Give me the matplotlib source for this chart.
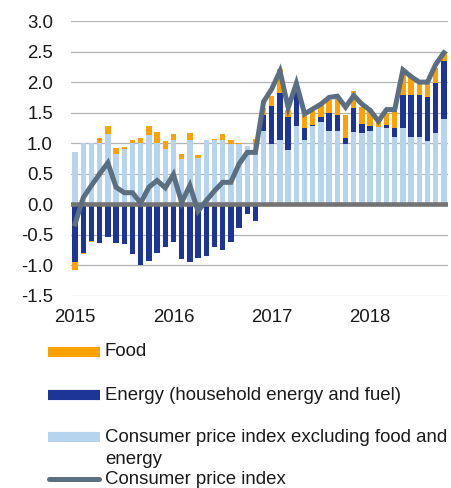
import matplotlib
matplotlib.use("Agg")
import matplotlib.pyplot as plt
from matplotlib.lines import Line2D
import numpy as np

plt.rcParams['font.family'] = ['Liberation Sans', 'DejaVu Sans']

# Monthly data Jan 2015 - Oct 2018 (percentage points / percent)
months = [f"{y}-{m:02d}" for y in range(2015, 2019) for m in range(1, 13)][:46]

core = [0.85, 1.00, 1.00, 1.00, 1.15, 0.83, 0.91, 1.00, 1.00, 1.14, 1.00, 0.90,
        1.06, 0.75, 1.06, 0.76, 1.06, 1.06, 1.06, 0.98, 0.98, 0.96, 0.97, 1.20,
        0.98, 1.05, 0.89, 1.28, 1.05, 1.28, 1.35, 1.20, 1.20, 0.98, 1.19, 1.17,
        1.20, 1.26, 1.25, 1.11, 1.25, 1.10, 1.10, 1.04, 1.17, 1.40]

energy = [-0.94, -0.79, -0.60, -0.64, -0.53, -0.63, -0.65, -0.82, -0.99, -0.92, -0.79, -0.70,
          -0.61, -0.90, -0.94, -0.88, -0.84, -0.69, -0.75, -0.62, -0.38, -0.15, -0.28, 0.27,
          0.63, 0.78, 0.54, 0.62, 0.20, 0.02, 0.08, 0.30, 0.27, 0.11, 0.38, 0.15,
          0.08, 0.00, 0.05, 0.14, 0.54, 0.69, 0.69, 0.72, 0.82, 0.94]

food = [-0.13, -0.03, -0.02, 0.09, 0.13, 0.09, 0.03, 0.05, 0.08, 0.15, 0.19, 0.13,
        0.09, 0.07, 0.11, 0.05, 0.00, 0.01, 0.09, 0.07, 0.03, 0.00, 0.10, 0.11,
        0.17, 0.38, 0.11, 0.08, 0.21, 0.23, 0.22, 0.21, 0.30, 0.38, 0.29, 0.28,
        0.24, 0.09, 0.20, 0.27, 0.36, 0.30, 0.20, 0.23, 0.24, 0.16]

cpi = [-0.32, 0.11, 0.31, 0.50, 0.68, 0.28, 0.19, 0.19, 0.02, 0.28, 0.39, 0.27,
       0.49, 0.03, 0.31, -0.11, 0.06, 0.22, 0.36, 0.36, 0.66, 0.85, 0.85, 1.68,
       1.89, 2.18, 1.58, 1.98, 1.48, 1.56, 1.64, 1.75, 1.77, 1.59, 1.78, 1.64,
       1.54, 1.36, 1.55, 1.55, 2.20, 2.09, 2.00, 2.00, 2.29, 2.48]

year_labels = ["2015", "2016", "2017", "2018"]
yticks = [-1.5, -1.0, -0.5, 0.0, 0.5, 1.0, 1.5, 2.0, 2.5, 3.0]

C_FOOD = '#ffa100'
C_ENERGY = '#1c3596'
C_CORE = '#b7d4ef'
C_CPI = '#5a6f82'
C_TEXT = '#1a1a1a'

W, H = 451, 488
fig = plt.figure(figsize=(W / 100, H / 100), dpi=100)
ax = fig.add_axes([71 / W, 1 - 296 / H, (448 - 71) / W, (296 - 21) / H])

x = np.arange(len(months))
core_a = np.array(core)
energy_a = np.array(energy)
food_a = np.array(food)

pos_e = np.clip(energy_a, 0, None)
neg_e = np.clip(energy_a, None, 0)
pos_f = np.clip(food_a, 0, None)
neg_f = np.clip(food_a, None, 0)

bw = 0.66
ax.bar(x, core_a, bw, color=C_CORE, zorder=2)
ax.bar(x, pos_e, bw, bottom=core_a, color=C_ENERGY, zorder=2)
ax.bar(x, pos_f, bw, bottom=core_a + pos_e, color=C_FOOD, zorder=2)
ax.bar(x, neg_e, bw, color=C_ENERGY, zorder=2)
ax.bar(x, neg_f, bw, bottom=neg_e, color=C_FOOD, zorder=2)

ax.axhline(0, color='#737373', lw=3.3, zorder=3)
ax.plot(x, cpi, color=C_CPI, lw=3.6, zorder=4, solid_joinstyle='miter')

ax.set_xlim(-0.5, len(months) - 0.5)
ax.set_ylim(-1.5, 3.0)
ax.set_yticks(yticks)
ax.set_yticklabels([f"{v:.1f}" for v in yticks])
ax.set_xticks([0, 12, 24, 36])
ax.set_xticklabels(year_labels)
for v in yticks:
    if v != 0:
        ax.axhline(v, color='#b3b3b3', lw=0.9, zorder=1)

for s in ax.spines.values():
    s.set_visible(False)
ax.tick_params(axis='both', length=0, labelsize=13.4, colors=C_TEXT)
ax.tick_params(axis='y', pad=13)
ax.tick_params(axis='x', pad=9)
ax.set_facecolor('none')


def fx(px):
    return px / W


def fy(py):
    return 1 - py / H


legend_rows = [
    ("Food", C_FOOD, 352, 'patch'),
    ("Energy (household energy and fuel)", C_ENERGY, 395, 'patch'),
    ("Consumer price index excluding food and", C_CORE, 437, 'patch'),
    ("Consumer price index", C_CPI, 479, 'line'),
]
for label, col, py, kind in legend_rows:
    if kind == 'patch':
        fig.add_artist(Line2D([fx(48), fx(100)], [fy(py), fy(py)], color=col,
                              lw=7.3, solid_capstyle='butt'))
    else:
        fig.add_artist(Line2D([fx(49), fx(99)], [fy(py), fy(py)], color=col,
                              lw=3.6, solid_capstyle='round'))
    fig.text(fx(105), fy(py), label, fontsize=13.4, color=C_TEXT,
             va='center', ha='left')
fig.text(fx(105), fy(460), "energy", fontsize=13.4, color=C_TEXT,
         va='center', ha='left')

fig.savefig("out.png", dpi=100)
